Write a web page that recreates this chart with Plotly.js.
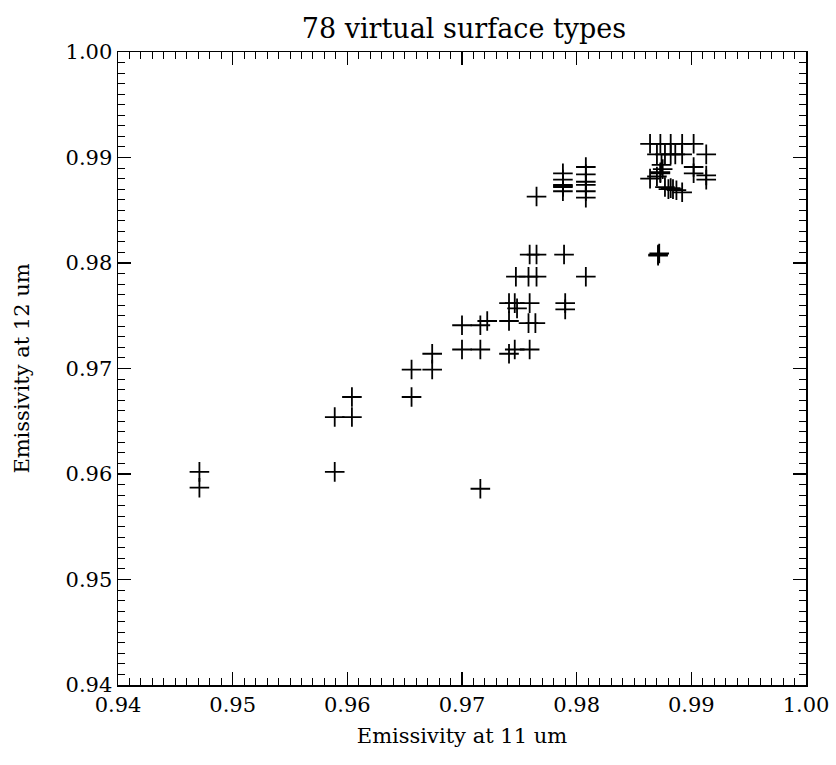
<!DOCTYPE html>
<html><head><meta charset="utf-8">
<script src="https://cdn.plot.ly/plotly-3.0.1.min.js"></script>
<style>html,body{margin:0;padding:0;background:#fff}</style>
</head><body>
<div id="chart" style="width:836px;height:765px"></div>
<script>
const titleText = "78 virtual surface types";
const xTitle = "Emissivity at 11 um";
const yTitle = "Emissivity at 12 um";

const emis11 = [
  0.9471, 0.9471, 0.9589, 0.9589, 0.9604, 0.9604, 0.9656, 0.9656, 0.9674, 0.9674,
  0.9700, 0.9716, 0.9700, 0.9716, 0.9722, 0.9716,
  0.9741, 0.9746, 0.9759, 0.9741, 0.9758, 0.9764, 0.9741, 0.9746, 0.9748, 0.9759,
  0.9790, 0.9790,
  0.9747, 0.9758, 0.9765, 0.9808, 0.9759, 0.9765, 0.9789, 0.9765,
  0.9788, 0.9788, 0.9788, 0.9788, 0.9788,
  0.9808, 0.9808, 0.9808, 0.9808, 0.9808, 0.9808,
  0.9864, 0.9873, 0.9882, 0.9892, 0.9902,
  0.9870, 0.9877, 0.9882, 0.9886, 0.9892, 0.9913,
  0.9874, 0.9902, 0.9902, 0.9913, 0.9913, 0.9864, 0.9873, 0.9870, 0.9875,
  0.9877, 0.9882, 0.9884, 0.9887, 0.9892,
  0.9871, 0.9871, 0.9872,
  0.9788, 0.9873, 0.9880
];
const emis12 = [
  0.9602, 0.9587, 0.9602, 0.9654, 0.9654, 0.9673, 0.9673, 0.9699, 0.9699, 0.9714,
  0.9718, 0.9718, 0.9741, 0.9741, 0.9745, 0.9586,
  0.9714, 0.9718, 0.9718, 0.9745, 0.9743, 0.9743, 0.9762, 0.9762, 0.9757, 0.9762,
  0.9762, 0.9756,
  0.9787, 0.9787, 0.9787, 0.9787, 0.9808, 0.9808, 0.9808, 0.9863,
  0.9885, 0.9879, 0.9874, 0.9872, 0.9868,
  0.9891, 0.9884, 0.9877, 0.9874, 0.9868, 0.9862,
  0.9913, 0.9913, 0.9913, 0.9913, 0.9913,
  0.9903, 0.9903, 0.9903, 0.9903, 0.9903, 0.9903,
  0.9893, 0.9891, 0.9885, 0.9883, 0.9879, 0.9880, 0.9886, 0.9882, 0.9889,
  0.9872, 0.9871, 0.9870, 0.9869, 0.9867,
  0.9808, 0.9807, 0.9809,
  0.9873, 0.9885, 0.9870
];

const fontFam = "DejaVu Serif, Liberation Serif, serif";

const trace = {
  x: emis11, y: emis12, type: 'scatter', mode: 'markers',
  marker: {symbol: 'cross-thin-open', size: 14, color: '#000', line: {color: '#000', width: 1.8}},
  hoverinfo: 'x+y'
};

const axisCommon = {
  showgrid: false, zeroline: false, showline: true, linecolor: '#000', linewidth: 1.5,
  mirror: 'ticks', ticks: 'inside', ticklen: 13, tickwidth: 1.2, tickcolor: '#000',
  dtick: 0.01, tickformat: '.2f',
  tickfont: {family: fontFam, size: 21, color: '#000'},
  minor: {ticks: 'inside', ticklen: 7, tickwidth: 1, tickcolor: '#000', dtick: 0.001, showgrid: false}
};

const layout = {
  width: 836, height: 765,
  margin: {l: 118, r: 30, t: 52, b: 80},
  paper_bgcolor: '#fff', plot_bgcolor: '#fff',
  showlegend: false,
  title: {text: titleText, x: 0.555, xanchor: 'center', y: 0.963, yanchor: 'middle',
          font: {family: fontFam, size: 27, color: '#000'}},
  xaxis: Object.assign({}, axisCommon, {range: [0.94, 1.00], tick0: 0.94,
          title: {text: xTitle, standoff: 12, font: {family: fontFam, size: 21, color: '#000'}}}),
  yaxis: Object.assign({}, axisCommon, {range: [0.94, 1.00], tick0: 0.94,
          title: {text: yTitle, standoff: 30, font: {family: fontFam, size: 21, color: '#000'}}})
};

Plotly.newPlot('chart', [trace], layout, {displayModeBar: false, staticPlot: true});
</script>
</body></html>
